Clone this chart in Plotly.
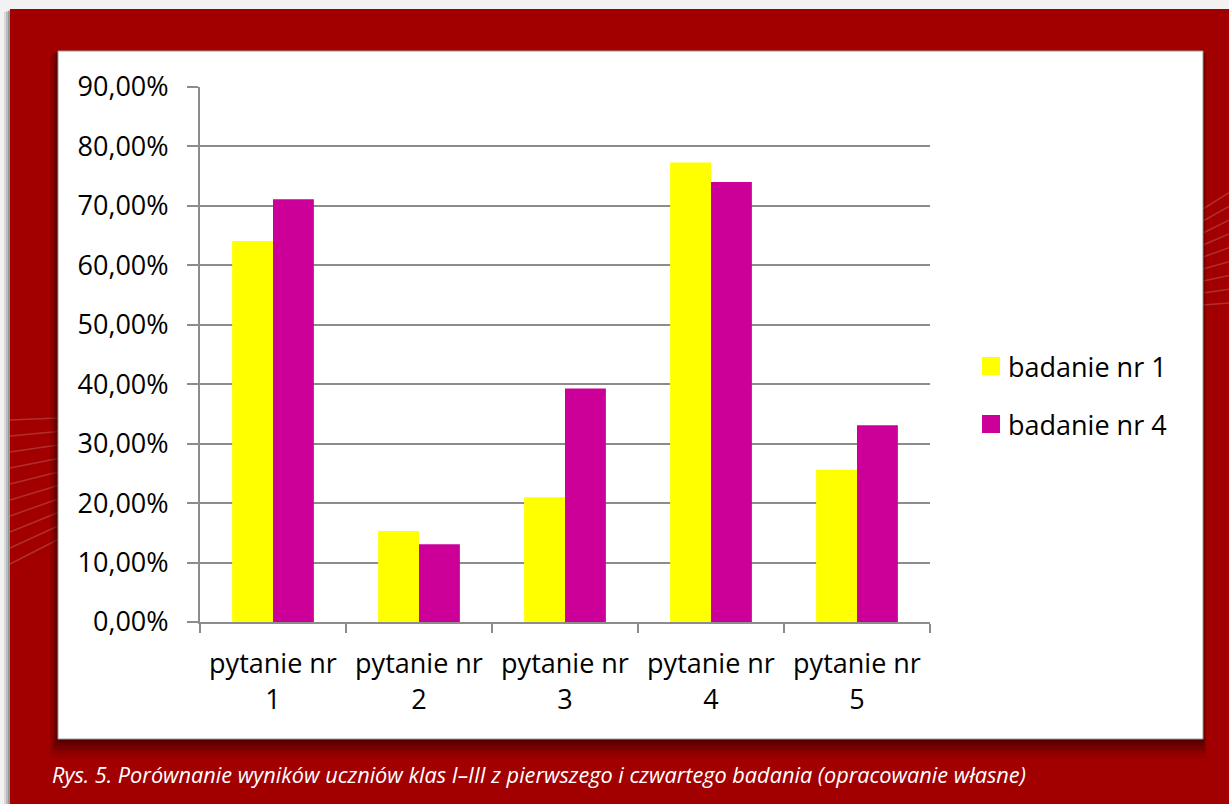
import plotly.graph_objects as go

categories = ["pytanie nr<br>1", "pytanie nr<br>2", "pytanie nr<br>3", "pytanie nr<br>4", "pytanie nr<br>5"]
series_names = ["badanie nr 1", "badanie nr 4"]
series_colors = ["#FFFF00", "#CC0099"]
badanie_1 = [0.641, 0.153, 0.210, 0.773, 0.256]
badanie_4 = [0.711, 0.131, 0.393, 0.740, 0.331]
y_ticks = [0.0, 0.1, 0.2, 0.3, 0.4, 0.5, 0.6, 0.7, 0.8, 0.9]
y_tick_labels = ["0,00%", "10,00%", "20,00%", "30,00%", "40,00%", "50,00%",
                 "60,00%", "70,00%", "80,00%", "90,00%"]
caption = "Rys. 5. Porównanie wyników uczniów klas I–III z pierwszego i czwartego badania (opracowanie własne)"

W, H = 1229, 804
L, R, T, B = 200, 930, 87, 622   # plot area in pixels

def px(x):
    return (x - L) / (R - L)

def py(y):
    return (B - y) / (B - T)

FONT = "Open Sans, Lato, sans-serif"
FS = 27
GRID = "#8c8c8c"

fig = go.Figure()
fig.add_trace(go.Bar(x=categories, y=badanie_1, name=series_names[0],
                     marker=dict(color=series_colors[0], line=dict(width=0))))
fig.add_trace(go.Bar(x=categories, y=badanie_4, name=series_names[1],
                     marker=dict(color=series_colors[1], line=dict(width=0))))

shapes = []
# light outer background
shapes.append(dict(type="rect", xref="paper", yref="paper", x0=px(0), x1=px(W), y0=py(H), y1=py(0),
                   fillcolor="#f2f2f2", line=dict(width=0), layer="below"))
# shadow of red frame
for i, op in enumerate([0.10, 0.14, 0.18]):
    off = 6 - 2 * i
    shapes.append(dict(type="rect", xref="paper", yref="paper", x0=px(10 - off), x1=px(W), y0=py(H), y1=py(9 + off / 2),
                       fillcolor="rgba(0,0,0,%s)" % op, line=dict(width=0), layer="below"))
# red frame
shapes.append(dict(type="rect", xref="paper", yref="paper", x0=px(10), x1=px(W), y0=py(H), y1=py(9),
                   fillcolor="#A20000", line=dict(width=0), layer="below"))
# decorative faint lines, left strip
for k in range(10):
    y0 = 420 + k * 16
    shapes.append(dict(type="line", xref="paper", yref="paper", x0=px(10), x1=px(58),
                       y0=py(y0), y1=py(y0 - 2 - k * 2.5),
                       line=dict(color="rgba(255,255,255,0.18)", width=1.5), layer="below"))
# decorative faint lines, right strip
for k in range(9):
    y0 = 305 - k * 12
    shapes.append(dict(type="line", xref="paper", yref="paper", x0=px(1203), x1=px(W),
                       y0=py(y0), y1=py(y0 - 2 - k * 1.8),
                       line=dict(color="rgba(255,255,255,0.18)", width=1.5), layer="below"))
# panel shadow
for i, op in enumerate([0.08, 0.12, 0.16, 0.22, 0.3]):
    off = 12 - 2.5 * i
    shapes.append(dict(type="rect", xref="paper", yref="paper", x0=px(58 - off * 0.7), x1=px(1203 + off * 0.3),
                       y0=py(739 + off * 1.6), y1=py(51 + off * 0.3),
                       fillcolor="rgba(40,0,0,%s)" % op, line=dict(width=0), layer="below"))
# white panel
shapes.append(dict(type="rect", xref="paper", yref="paper", x0=px(58), x1=px(1203), y0=py(739), y1=py(51),
                   fillcolor="#ffffff", line=dict(color="#9a9a9a", width=1), layer="below"))

annotations = [dict(text=caption, xref="paper", yref="paper", x=px(50), y=py(775),
                    xanchor="left", yanchor="middle", showarrow=False,
                    font=dict(family="Open Sans, sans-serif", size=21.7, color="#ffffff", style="italic"))]

# legend (square swatches + labels)
legend_y = [366, 424]
for name, color, ly in zip(series_names, series_colors, legend_y):
    shapes.append(dict(type="rect", xref="paper", yref="paper", x0=px(982), x1=px(1000),
                       y0=py(ly + 9), y1=py(ly - 9), fillcolor=color, line=dict(width=0), layer="above"))
    annotations.append(dict(text=name, xref="paper", yref="paper", x=px(1006), y=py(ly),
                            xanchor="left", yanchor="middle", showarrow=False,
                            font=dict(family=FONT, size=FS, color="#000000")))

fig.update_layout(
    width=W, height=H,
    margin=dict(l=L, r=W - R, t=T, b=H - B, pad=0),
    paper_bgcolor="#ffffff",
    plot_bgcolor="rgba(0,0,0,0)",
    barmode="group",
    bargap=0.44,
    bargroupgap=0,
    font=dict(family=FONT, size=FS, color="#000000"),
    showlegend=False,
    shapes=shapes,
    annotations=annotations,
    xaxis=dict(type="category", tickson="boundaries", showgrid=False,
               showline=True, linecolor=GRID, linewidth=2,
               ticks="outside", ticklen=9, tickwidth=2, tickcolor=GRID,
               ticklabelstandoff=17,
               tickfont=dict(family=FONT, size=FS, color="#000000"),
               fixedrange=True),
    yaxis=dict(range=[0, 0.9], tickvals=y_ticks, ticktext=y_tick_labels,
               showgrid=True, gridcolor=GRID, gridwidth=2,
               showline=True, linecolor=GRID, linewidth=2,
               ticks="outside", ticklen=11, tickwidth=2, tickcolor=GRID,
               ticklabelstandoff=13,
               tickfont=dict(family=FONT, size=FS, color="#000000"),
               zeroline=False, fixedrange=True),
)

fig.write_html("out.html", config={"displayModeBar": False},
               post_script="document.body.style.margin='0';")
